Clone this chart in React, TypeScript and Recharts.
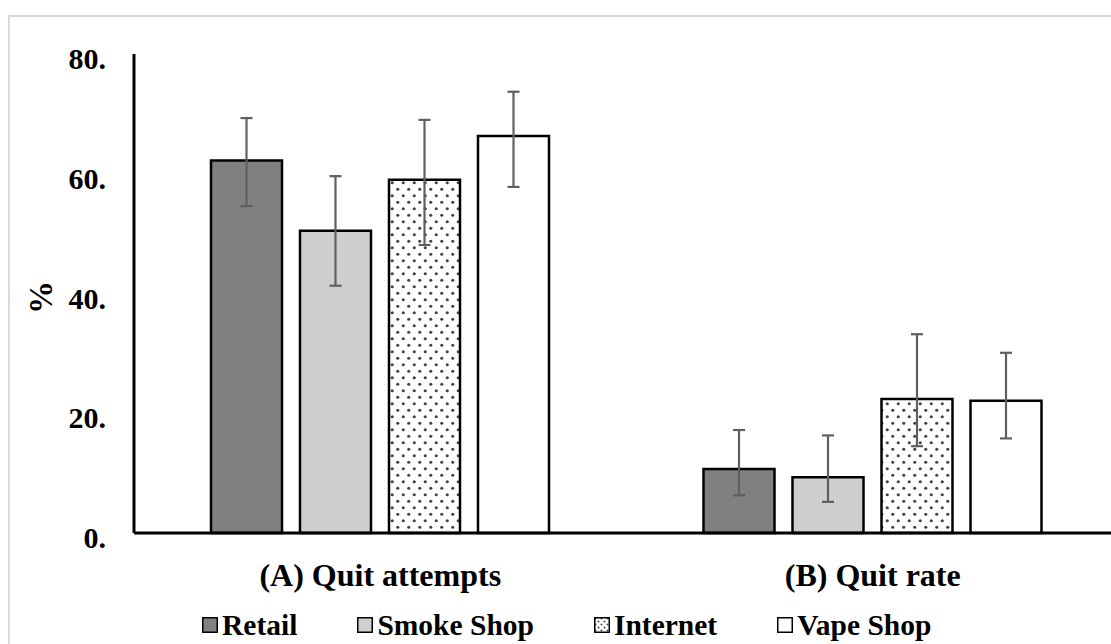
import { BarChart, Bar, XAxis, YAxis, ErrorBar, Legend } from 'recharts';

// values (percent)
const categories = ['(A) Quit attempts', '(B) Quit rate'];
const seriesNames = ['Retail', 'Smoke Shop', 'Internet', 'Vape Shop'];

const retail = [62.2, 10.7];
const retailLow = [54.6, 6.3];
const retailHigh = [69.3, 17.2];

const smokeShop = [50.5, 9.3];
const smokeShopLow = [41.3, 5.2];
const smokeShopHigh = [59.6, 16.3];

const internet = [59.0, 22.4];
const internetLow = [48.1, 14.5];
const internetHigh = [69.0, 33.2];

const vapeShop = [66.3, 22.1];
const vapeShopLow = [57.8, 15.8];
const vapeShopHigh = [73.7, 30.1];

const yTicks = [0, 20, 40, 60, 80];

const FONT = '"Liberation Serif", "Times New Roman", serif';
const keys = ['retail', 'smoke', 'internet', 'vape'];
const fills = ['#808080', '#d0cfce', 'url(#dots)', '#ffffff'];

const data = categories.map((name, i) => ({
  name,
  retail: retail[i],
  retailErr: [retail[i] - retailLow[i], retailHigh[i] - retail[i]],
  smoke: smokeShop[i],
  smokeErr: [smokeShop[i] - smokeShopLow[i], smokeShopHigh[i] - smokeShop[i]],
  internet: internet[i],
  internetErr: [internet[i] - internetLow[i], internetHigh[i] - internet[i]],
  vape: vapeShop[i],
  vapeErr: [vapeShop[i] - vapeShopLow[i], vapeShopHigh[i] - vapeShop[i]],
}));

const YTick = ({ x, y, payload }: any) => (
  <text x={x} y={y} dy={15} textAnchor="end" fontFamily={FONT} fontWeight="bold" fontSize={30} fill="#000">
    {`${payload.value}.`}
  </text>
);

const XTick = ({ x, y, payload }: any) => (
  <text x={x} y={y} dy={53} textAnchor="middle" fontFamily={FONT} fontWeight="bold" fontSize={32} fill="#000">
    {payload.value}
  </text>
);

const LegendIcon = ({ index }: { index: number }) => (
  <svg width={16} height={16} style={{ display: 'block', marginRight: 4 }}>
    <defs>
      <pattern id="legendDots" width={6} height={6} patternUnits="userSpaceOnUse">
        <circle cx={1.5} cy={1.5} r={1} fill="#444" />
        <circle cx={4.5} cy={4.5} r={1} fill="#444" />
      </pattern>
    </defs>
    <rect
      x={0.75}
      y={0.75}
      width={14.5}
      height={14.5}
      fill={index === 2 ? 'url(#legendDots)' : fills[index]}
      stroke="#000"
      strokeWidth={1.5}
    />
  </svg>
);

const LegendContent = () => (
  <div style={{ display: 'flex', alignItems: 'center', gap: 60, height: 32 }}>
    {seriesNames.map((name, i) => (
      <div key={name} style={{ display: 'flex', alignItems: 'center' }}>
        <LegendIcon index={i} />
        <span style={{ fontFamily: FONT, fontWeight: 'bold', fontSize: 29.5, color: '#000', lineHeight: '32px' }}>
          {name}
        </span>
      </div>
    ))}
  </div>
);

export default function App() {
  return (
    <div style={{ position: 'fixed', left: 8, top: 8, width: 1103, height: 636, overflow: 'hidden', background: '#fff' }}>
      <div style={{ marginTop: 7, borderLeft: '2px solid #d9d9d9', borderTop: '2px solid #d9d9d9', width: 1200, height: 640 }}>
        <BarChart
          width={1200}
          height={640}
          data={data}
          barSize={71}
          barGap={18}
          margin={{ top: 37, right: 91, left: 0, bottom: 64 }}
        >
          <defs>
            <pattern id="dots" width={11} height={13} patternUnits="userSpaceOnUse">
              <circle cx={2.75} cy={3.25} r={1.6} fill="#444" />
              <circle cx={8.25} cy={9.75} r={1.6} fill="#444" />
            </pattern>
          </defs>
          <XAxis
            dataKey="name"
            height={60}
            axisLine={{ stroke: '#000', strokeWidth: 3 }}
            tickLine={false}
            tickSize={0}
            tickMargin={0}
            tick={<XTick />}
          />
          <YAxis
            width={124}
            domain={[0, 80]}
            ticks={yTicks}
            axisLine={{ stroke: '#000', strokeWidth: 3 }}
            tickLine={false}
            tickSize={0}
            tickMargin={28}
            tick={<YTick />}
            label={{
              content: ({ viewBox }: any) => {
                const cx = 31;
                const cy = viewBox.y + viewBox.height / 2 + 4;
                return (
                  <text
                    x={cx}
                    y={cy}
                    dy={11}
                    transform={`rotate(-90 ${cx} ${cy})`}
                    textAnchor="middle"
                    fontFamily={FONT}
                    fontWeight="bold"
                    fontSize={33}
                    fill="#000"
                  >
                    %
                  </text>
                );
              },
            }}
          />
          <Legend
            layout="horizontal"
            verticalAlign="middle"
            align="center"
            wrapperStyle={{ left: 192, top: 592, width: 'auto' }}
            content={<LegendContent />}
          />
          {keys.map((k, i) => (
            <Bar
              key={k}
              dataKey={k}
              name={seriesNames[i]}
              fill={fills[i]}
              stroke="#000"
              strokeWidth={2.5}
              isAnimationActive={false}
            >
              <ErrorBar
                dataKey={`${k}Err`}
                width={6}
                stroke="#5f5f5f"
                strokeWidth={2.2}
                isAnimationActive={false}
              />
            </Bar>
          ))}
        </BarChart>
      </div>
    </div>
  );
}
